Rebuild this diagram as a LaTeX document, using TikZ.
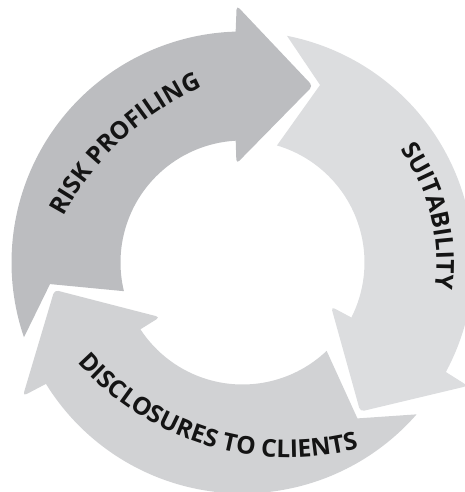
\documentclass[tikz,border=0pt]{standalone}
\usepackage{fontspec}
\newfontfamily\lblfont{Open Sans}
\usetikzlibrary{decorations.text}
\definecolor{riskc}{RGB}{188,189,192}
\definecolor{suitc}{RGB}{220,221,223}
\definecolor{discc}{RGB}{209,210,212}
\definecolor{txtc}{RGB}{20,20,20}
\begin{document}
\begin{tikzpicture}[x=1pt,y=1pt,
  cyc arrow/.pic={
    \fill[#1] (198.9:231) -- (186.4:193.7) -- (193.6:122)
      arc[start angle=193.6, end angle=93.2, radius=122]
      [rounded corners=4pt] -- (93.5:99) -- (68.3:190) -- (91.3:257)
      [sharp corners] -- (91.7:231)
      arc[start angle=91.7, end angle=198.9, radius=231] -- cycle;
  },
  arclabel/.style={decorate, decoration={text along path, text align=center,
     text={|\lblfont\bfseries\fontsize{24.5}{24.5}\selectfont\color{txtc}|#1}}}
]
\useasboundingbox (-242.5,-229.5) rectangle (222.5,262.5);
\pic (riskarrow) {cyc arrow=riskc};
\pic[rotate=-120] (suitarrow) {cyc arrow=suitc};
\pic[rotate=120] (discarrow) {cyc arrow=discc};
\path[arclabel={RISK PROFILING}] (77,-89.5) ++(173:289.5) arc[start angle=173, end angle=93, radius=289.5];
\path[arclabel={SUITABILITY}] (74:194) arc[start angle=74, end angle=-46, radius=194];
\path[arclabel={DISCLOSURES TO CLIENTS}] (45.5,85.5) ++(193:280.5) arc[start angle=193, end angle=313, radius=280.5];
\end{tikzpicture}
\end{document}
